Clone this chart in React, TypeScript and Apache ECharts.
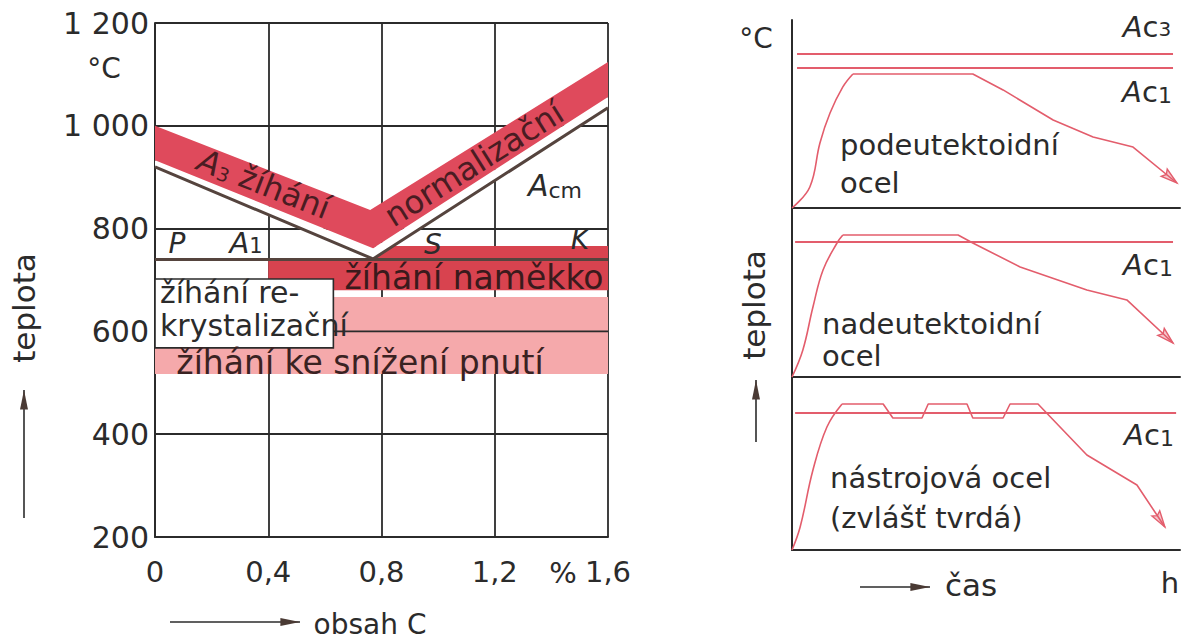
import React, { useEffect, useRef } from 'react';
import * as echarts from 'echarts';

// ---------- Left diagram data (obsah C [%], teplota [°C]) ----------
const carbonRange = [0, 1.6];
const carbonStep = 0.4;
const tempRange = [200, 1200];
const tempStep = 200;
const criticalLine = [[0, 920], [0.77, 741], [1.6, 1035]]; // A3 – Acm
const a1Line = [[0, 740], [1.6, 740]];
const normBand = [[0, 933], [0.77, 762], [1.6, 1056], [1.6, 1124], [0.76, 836], [0, 1000]];
const whiteGap = [[0, 920], [0.77, 741], [1.6, 1035], [1.6, 1056], [0.77, 762], [0, 933]];
const softBand = [[0.4, 680], [1.6, 680], [1.6, 766], [0.77, 766], [0.77, 737], [0.4, 737]];
const stressBand = [[0, 517], [1.6, 517], [1.6, 667], [0, 667]];
const recrystBox = [[0, 568], [0.63, 568], [0.63, 702], [0, 702]];
const grid600 = [[0.63, 600], [1.6, 600]];

// ---------- Right diagram data (čas, relative temperature 0..100) ----------
const hypoAc3 = [[1.3, 81.9], [98.2, 81.9]];
const hypoAc1 = [[1.3, 74.5], [98.2, 74.5]];
const hypoHeat = [[0, 0], [4.6, 11.2], [7.2, 34.6], [9.8, 50.5], [13.1, 64.4], [15.7, 71.3]];
const hypoHold = [[15.7, 71.3], [46.6, 71.3], [54.4, 62.8], [67.3, 46.8], [77.6, 37.8], [87.9, 32.4], [99.2, 13.3]];

const hyperAc1 = [[0.8, 79.9], [98.2, 79.9]];
const hyperHeat = [[0, 0], [2.8, 16.0], [5.4, 41.4], [8.0, 63.3], [11.6, 79.3], [13.1, 84.0]];
const hyperHold = [[13.1, 84.0], [42.8, 84.0], [46.6, 79.3], [58.8, 65.1], [76.0, 51.5], [86.3, 45.6], [98.2, 20.1]];

const toolAc1 = [[0.8, 79.2], [99, 79.2]];
const toolHeat = [[0, 0], [2.1, 13.3], [5.4, 46.2], [9.0, 71.1], [12.9, 84.4]];
const toolCycle = [[12.9, 84.4], [23.5, 84.4], [26.0, 76.3], [33.5, 76.3], [35.1, 84.4], [45.1, 84.4], [46.6, 76.3], [54.4, 76.3], [56.2, 84.4], [63.4, 84.4], [76.0, 54.9], [88.9, 37.6], [96.1, 13.3]];

const FONT = '"DejaVu Sans", sans-serif';
const INK = '#2b2b2b';
const BROWN = '#55443e';
const RED = '#df4a5c';
const RED2 = '#d8434f';
const PINK = '#f5a9ab';
const CURVE = '#e35d6c';

function polygonSeries(points: number[][], style: any, xi = 0, yi = 0) {
  return {
    type: 'custom', xAxisIndex: xi, yAxisIndex: yi, silent: true,
    data: points, encode: { x: 0, y: 1 },
    renderItem: (params: any, api: any) => {
      if (params.dataIndex !== 0) return null;
      const pts = points.map((p) => api.coord(p));
      return { type: 'polygon', shape: { points: pts }, style };
    },
  };
}

function lineSeries(points: number[][], color: string, width: number, xi = 0, yi = 0, smooth: any = false) {
  return {
    type: 'line', xAxisIndex: xi, yAxisIndex: yi, data: points, symbol: 'none', smooth, silent: true,
    lineStyle: { color, width },
  };
}

function arrowHead(points: number[][], xi: number, yi: number) {
  const a = points[points.length - 2];
  const b = points[points.length - 1];
  return {
    type: 'custom', xAxisIndex: xi, yAxisIndex: yi, silent: true,
    data: [[a[0], a[1], b[0], b[1]]], encode: { x: [0, 2], y: [1, 3] },
    renderItem: (params: any, api: any) => {
      const p = api.coord([api.value(0), api.value(1)]);
      const q = api.coord([api.value(2), api.value(3)]);
      const ang = Math.atan2(q[1] - p[1], q[0] - p[0]);
      const L = 17, w = 0.28;
      const p1 = [q[0] - L * Math.cos(ang - w), q[1] - L * Math.sin(ang - w)];
      const p2 = [q[0] - L * Math.cos(ang + w), q[1] - L * Math.sin(ang + w)];
      const m = [q[0] - L * 0.8 * Math.cos(ang), q[1] - L * 0.8 * Math.sin(ang)];
      return {
        type: 'polygon', shape: { points: [p1, q, p2, m] },
        style: { stroke: CURVE, lineWidth: 1.4, fill: 'rgba(227,93,108,0.35)' },
      };
    },
  };
}

function txt(text: string, x: number, y: number, extra: any = {}, el: any = {}) {
  return {
    type: 'text', x, y, silent: true, z: 100, ...el,
    style: { text, fontSize: 29, fontFamily: FONT, fill: INK, align: 'center', verticalAlign: 'middle', ...extra },
  };
}

function arrowGraphic(x1: number, y1: number, x2: number, y2: number) {
  const ang = Math.atan2(y2 - y1, x2 - x1);
  const L = 20, w = 0.2;
  const p1 = [x2 - L * Math.cos(ang - w), y2 - L * Math.sin(ang - w)];
  const p2 = [x2 - L * Math.cos(ang + w), y2 - L * Math.sin(ang + w)];
  return [
    { type: 'line', silent: true, z: 100, shape: { x1, y1, x2, y2 }, style: { stroke: INK, lineWidth: 1.6 } },
    { type: 'polygon', silent: true, z: 100, shape: { points: [p1, [x2, y2], p2] }, style: { fill: '#4a3a34' } },
  ];
}

const subRich = (size: number, pad: number) => ({
  i: { fontStyle: 'italic', fontSize: 29, fontFamily: FONT },
  s: { fontSize: size, fontFamily: FONT, padding: [pad, 0, 0, 0] },
});

export default function App() {
  const ref = useRef<HTMLDivElement>(null);
  useEffect(() => {
    if (!ref.current) return;
    const chart = echarts.init(ref.current, null, { renderer: 'svg' });
    const rightX = (gi: number) => ({
      type: 'value', gridIndex: gi, min: 0, max: 100,
      axisLine: { show: true, onZero: false, lineStyle: { color: INK, width: 2 } },
      axisTick: { show: false }, axisLabel: { show: false }, splitLine: { show: false },
    });
    const rightY = (gi: number) => ({
      type: 'value', gridIndex: gi, min: 0, max: 100,
      axisLine: { show: true, onZero: false, lineStyle: { color: INK, width: 2 } },
      axisTick: { show: false }, axisLabel: { show: false }, splitLine: { show: false },
    });
    const option: any = {
      animation: false,
      grid: [
        { left: 155, top: 23, width: 453, height: 514 },
        { left: 792, top: 20, width: 388, height: 188 },
        { left: 792, top: 208, width: 388, height: 169 },
        { left: 792, top: 377, width: 388, height: 173 },
      ],
      xAxis: [
        {
          type: 'value', gridIndex: 0, min: carbonRange[0], max: carbonRange[1], interval: carbonStep,
          axisLine: { show: true, lineStyle: { color: INK, width: 2 } },
          axisTick: { show: false },
          axisLabel: {
            fontSize: 29, fontFamily: FONT, color: INK, margin: 20,
            formatter: (v: number) => (v === 0 ? '0' : String(+v.toFixed(1)).replace('.', ',')),
          },
          splitLine: { show: true, lineStyle: { color: INK, width: 1.8 } },
        },
        rightX(1), rightX(2), rightX(3),
      ],
      yAxis: [
        {
          type: 'value', gridIndex: 0, min: tempRange[0], max: tempRange[1], interval: tempStep,
          axisLine: { show: true, lineStyle: { color: INK, width: 2 } },
          axisTick: { show: false },
          axisLabel: {
            fontSize: 30, fontFamily: FONT, color: INK, margin: 6,
            formatter: (v: number) => String(v).replace(/\B(?=(\d{3})+(?!\d))/g, ' '),
          },
          splitLine: { show: true, lineStyle: { color: INK, width: 1.8 } },
        },
        rightY(1), rightY(2), rightY(3),
      ],
      series: [
        polygonSeries(stressBand, { fill: PINK }),
        lineSeries(grid600, INK, 1.6),
        polygonSeries(softBand, { fill: RED2 }),
        polygonSeries(whiteGap, { fill: '#ffffff' }),
        polygonSeries(normBand, { fill: RED }),
        lineSeries(criticalLine, BROWN, 3),
        lineSeries(a1Line, BROWN, 3),
        polygonSeries(recrystBox, { fill: '#ffffff', stroke: INK, lineWidth: 1.6 }),

        lineSeries(hypoAc3, CURVE, 2, 1, 1),
        lineSeries(hypoAc1, CURVE, 2, 1, 1),
        lineSeries(hypoHeat, CURVE, 1.6, 1, 1, 0.4),
        lineSeries(hypoHold, CURVE, 1.6, 1, 1),
        arrowHead(hypoHold, 1, 1),

        lineSeries(hyperAc1, CURVE, 2, 2, 2),
        lineSeries(hyperHeat, CURVE, 1.6, 2, 2, 0.4),
        lineSeries(hyperHold, CURVE, 1.6, 2, 2),
        arrowHead(hyperHold, 2, 2),

        lineSeries(toolAc1, CURVE, 2, 3, 3),
        lineSeries(toolHeat, CURVE, 1.6, 3, 3, 0.4),
        lineSeries(toolCycle, CURVE, 1.6, 3, 3),
        arrowHead(toolCycle, 3, 3),
      ],
      graphic: [
        // left diagram texts
        txt('°C', 104, 68, { fontSize: 28 }),
        txt('teplota', 24, 308, { fontSize: 31 }, { rotation: Math.PI / 2 }),
        ...arrowGraphic(24, 518, 24, 390),
        txt('obsah C', 370, 624, { fontSize: 28 }),
        ...arrowGraphic(170, 622, 300, 622),
        txt('%', 563, 573, { fontSize: 29 }),
        txt('{i|A}{s|3} žíhání', 264, 184, {
          fill: '#4a1c22', fontSize: 32,
          rich: { i: { fontStyle: 'italic', fontSize: 32, fontFamily: FONT }, s: { fontSize: 19, fontFamily: FONT, padding: [12, 0, 0, 0] } },
        }, { rotation: -0.373 }),
        txt('normalizační', 474, 164, { fill: '#4a1c22', fontSize: 32 }, { rotation: 0.562 }),
        txt('{i|A}{s|cm}', 555, 185, { rich: { i: { fontStyle: 'italic', fontSize: 30, fontFamily: FONT }, s: { fontSize: 22, fontFamily: FONT, padding: [10, 0, 0, 0] } } }),
        txt('P', 177, 243, { fontStyle: 'italic', fontSize: 28 }),
        txt('{i|A}{s|1}', 246, 243, { rich: subRich(21, 6) }),
        txt('S', 433, 244, { fontStyle: 'italic', fontSize: 28 }),
        txt('K', 580, 239, { fontStyle: 'italic', fontSize: 28 }),
        txt('žíhání naměkko', 474, 277, { fill: '#3a1a1c', fontSize: 33 }),
        txt('žíhání re-\nkrystalizační', 160, 309, { align: 'left', fontSize: 30, lineHeight: 33 }),
        txt('žíhání ke snížení pnutí', 360, 362, { fill: '#3a2222', fontSize: 33 }),

        // right diagram texts
        txt('°C', 756, 38, { fontSize: 28 }),
        txt('{i|A}c{s|3}', 1147, 27, { rich: subRich(20, 4) }),
        txt('{i|A}c{s|1}', 1147, 92, { rich: subRich(22, 6) }),
        txt('{i|A}c{s|1}', 1148, 265, { rich: subRich(22, 6) }),
        txt('{i|A}c{s|1}', 1149, 435, { rich: subRich(22, 6) }),
        txt('podeutektoidní\nocel', 840, 164, { align: 'left', lineHeight: 38 }),
        txt('nadeutektoidní\nocel', 822, 340, { align: 'left', lineHeight: 32 }),
        txt('nástrojová ocel\n(zvlášť tvrdá)', 830, 498, { align: 'left', lineHeight: 40 }),
        txt('čas', 971, 585, { fontSize: 31 }),
        ...arrowGraphic(860, 587, 930, 587),
        txt('h', 1170, 583, { fontSize: 29 }),
        txt('teplota', 754, 305, { fontSize: 31 }, { rotation: Math.PI / 2 }),
        ...arrowGraphic(756, 442, 756, 380),
      ],
    };
    chart.setOption(option);
    return () => chart.dispose();
  }, []);
  return (
    <div
      ref={ref}
      style={{ position: 'fixed', left: 0, top: 0, width: 1187, height: 639, background: '#ffffff' }}
    />
  );
}
